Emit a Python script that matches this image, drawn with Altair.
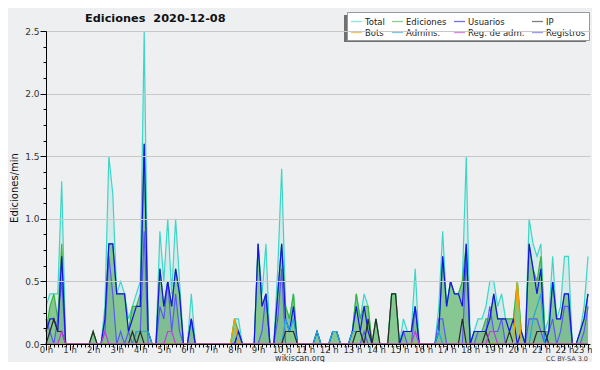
import altair as alt
import pandas as pd

# ---- data: edits per minute, one value per 10 minutes (0:00 .. 23:00) ----
total = [
    0.3, 0.4, 0.4, 0.4, 1.3, 0,      # 0 h
    0, 0, 0, 0, 0, 0,                # 1 h
    0.1, 0, 0, 0.3, 1.5, 1.2,        # 2 h
    0.4, 0.5, 0.4, 0.2, 0.3, 0.4,    # 3 h
    0.5, 2.5, 0.1, 0, 0, 0.9,        # 4 h
    0.5, 1.0, 0.4, 1.0, 0.5, 0,      # 5 h
    0, 0.4, 0, 0, 0, 0,              # 6 h
    0, 0, 0, 0, 0, 0,                # 7 h
    0.2, 0.2, 0, 0, 0, 0,            # 8 h
    0.8, 0.4, 0.8, 0, 0, 0.6,        # 9 h
    1.4, 0.3, 0.2, 0.4, 0, 0,        # 10 h
    0, 0, 0, 0.1, 0, 0,              # 11 h
    0, 0.1, 0.1, 0, 0, 0,            # 12 h
    0.1, 0.4, 0.2, 0.4, 0.3, 0,      # 13 h
    0.2, 0, 0, 0, 0.4, 0.4,          # 14 h
    0, 0.2, 0.1, 0.1, 0.6, 0,        # 15 h
    0, 0, 0, 0, 0.3, 0.9,            # 16 h
    0.3, 0.5, 0.4, 0.4, 0.5, 1.5,    # 17 h
    0, 0.1, 0.2, 0.2, 0.3, 0.5,      # 18 h
    0.5, 0.3, 0.4, 0.2, 0.2, 0.2,    # 19 h
    0.5, 0.1, 0, 1.0, 0.8, 0.7,      # 20 h
    0.8, 0.1, 0.2, 0.7, 0.2, 0.3,    # 21 h
    0.7, 0.7, 0, 0, 0.1, 0.3,        # 22 h
    0.7,                             # 23 h
]
ediciones = [
    0.1, 0.3, 0.4, 0.2, 0.8, 0,
    0, 0, 0, 0, 0, 0,
    0.1, 0, 0, 0.2, 0.8, 0.8,
    0.4, 0.4, 0.4, 0.1, 0.3, 0.3,
    0.4, 1.6, 0.1, 0, 0, 0.6,
    0.3, 0.5, 0.3, 0.6, 0.4, 0,
    0, 0.2, 0, 0, 0, 0,
    0, 0, 0, 0, 0, 0,
    0.2, 0.1, 0, 0, 0, 0,
    0.8, 0.3, 0.4, 0, 0, 0.4,
    0.8, 0.3, 0.2, 0.4, 0, 0,
    0, 0, 0, 0.1, 0, 0,
    0, 0.1, 0.1, 0, 0, 0,
    0.1, 0.4, 0.2, 0.3, 0.3, 0,
    0.2, 0, 0, 0, 0.4, 0.4,
    0, 0.1, 0.1, 0.1, 0.3, 0,
    0, 0, 0, 0, 0.1, 0.7,
    0.3, 0.5, 0.4, 0.4, 0.5, 0.8,
    0, 0.1, 0.1, 0.1, 0.2, 0.2,
    0.4, 0.2, 0.2, 0.2, 0.2, 0.2,
    0.5, 0.1, 0, 0.8, 0.6, 0.5,
    0.7, 0.1, 0.1, 0.5, 0.2, 0.2,
    0.4, 0.4, 0, 0, 0.1, 0.2,
    0.4,
]
usuarios = [
    0.1, 0.2, 0.2, 0.1, 0.7, 0,
    0, 0, 0, 0, 0, 0,
    0, 0, 0, 0.2, 0.8, 0.8,
    0.4, 0.4, 0.4, 0.1, 0.2, 0.3,
    0.3, 1.6, 0.1, 0, 0, 0.6,
    0.3, 0.5, 0.3, 0.6, 0.4, 0,
    0, 0.2, 0, 0, 0, 0,
    0, 0, 0, 0, 0, 0,
    0, 0.1, 0, 0, 0, 0,
    0.8, 0.3, 0.4, 0, 0, 0.4,
    0.8, 0.2, 0.1, 0.3, 0, 0,
    0, 0, 0, 0.1, 0, 0,
    0, 0.1, 0.1, 0, 0, 0,
    0.1, 0.3, 0.1, 0.3, 0.1, 0,
    0, 0, 0, 0, 0, 0,
    0, 0.1, 0.1, 0.1, 0.3, 0,
    0, 0, 0, 0, 0.1, 0.7,
    0.3, 0.5, 0.4, 0.4, 0.3, 0.8,
    0, 0.1, 0.1, 0.1, 0.1, 0.2,
    0.4, 0.2, 0.2, 0.2, 0.1, 0.2,
    0, 0.1, 0, 0.8, 0.6, 0.4,
    0.6, 0, 0.1, 0.5, 0.2, 0.2,
    0.4, 0.4, 0, 0, 0.1, 0.2,
    0.4,
]
ip = [
    0, 0.1, 0.2, 0.1, 0.1, 0,
    0, 0, 0, 0, 0, 0,
    0.1, 0, 0, 0, 0, 0,
    0, 0, 0, 0, 0.1, 0,
    0.1, 0, 0, 0, 0, 0,
    0, 0, 0, 0, 0, 0,
    0, 0, 0, 0, 0, 0,
    0, 0, 0, 0, 0, 0,
    0, 0, 0, 0, 0, 0,
    0, 0, 0, 0, 0, 0,
    0, 0.1, 0.1, 0.1, 0, 0,
    0, 0, 0, 0, 0, 0,
    0, 0, 0, 0, 0, 0,
    0, 0.1, 0.1, 0, 0.2, 0,
    0.2, 0, 0, 0, 0.4, 0.4,
    0, 0, 0, 0, 0, 0,
    0, 0, 0, 0, 0, 0,
    0, 0, 0, 0, 0.2, 0,
    0, 0, 0, 0, 0.1, 0,
    0, 0, 0, 0, 0.1, 0,
    0, 0, 0, 0, 0, 0.1,
    0.1, 0.1, 0, 0, 0, 0,
    0, 0, 0, 0, 0, 0,
    0,
]
registros = [
    0.2, 0.1, 0, 0.2, 0.5, 0,
    0, 0, 0, 0, 0, 0,
    0, 0, 0, 0.1, 0.7, 0.4,
    0, 0.1, 0, 0.1, 0, 0.1,
    0.1, 0.9, 0, 0, 0, 0.3,
    0.2, 0.5, 0.1, 0.4, 0.1, 0,
    0, 0.2, 0, 0, 0, 0,
    0, 0, 0, 0, 0, 0,
    0, 0.1, 0, 0, 0, 0,
    0, 0.1, 0.4, 0, 0, 0.2,
    0.6, 0, 0, 0, 0, 0,
    0, 0, 0, 0, 0, 0,
    0, 0, 0, 0, 0, 0,
    0, 0, 0, 0.1, 0, 0,
    0, 0, 0, 0, 0, 0,
    0, 0.1, 0, 0, 0.3, 0,
    0, 0, 0, 0, 0.2, 0.2,
    0, 0, 0, 0, 0, 0.7,
    0, 0, 0.1, 0.1, 0.1, 0.3,
    0.1, 0.1, 0.2, 0, 0, 0,
    0, 0, 0, 0.2, 0.2, 0.2,
    0.1, 0, 0.1, 0.2, 0, 0.1,
    0.3, 0.3, 0, 0, 0, 0.1,
    0.3,
]
admins = [
    0, 0, 0, 0, 0, 0,
    0, 0, 0, 0, 0, 0,
    0, 0, 0, 0, 0, 0,
    0, 0, 0, 0, 0, 0.1,
    0.1, 0.1, 0.1, 0, 0, 0,
    0, 0, 0, 0, 0, 0,
    0, 0, 0, 0, 0, 0,
    0, 0, 0, 0, 0, 0,
    0, 0, 0, 0, 0, 0,
    0, 0, 0, 0, 0, 0,
    0, 0.2, 0.1, 0.2, 0, 0,
    0, 0, 0, 0.1, 0, 0,
    0, 0.1, 0.1, 0, 0, 0,
    0.1, 0.1, 0.1, 0, 0, 0,
    0, 0, 0, 0, 0, 0,
    0, 0, 0, 0, 0, 0,
    0, 0, 0, 0, 0.1, 0,
    0, 0, 0, 0, 0, 0,
    0, 0, 0, 0, 0, 0,
    0, 0, 0, 0, 0, 0,
    0, 0, 0, 0, 0.2, 0.3,
    0.4, 0, 0, 0, 0, 0,
    0, 0, 0, 0, 0, 0,
    0,
]
bots = [
    0, 0, 0, 0, 0, 0,
    0, 0, 0, 0, 0, 0,
    0, 0, 0, 0, 0, 0,
    0, 0, 0, 0, 0, 0,
    0, 0, 0, 0, 0, 0,
    0, 0, 0, 0, 0, 0,
    0, 0, 0, 0, 0, 0,
    0, 0, 0, 0, 0, 0,
    0.2, 0, 0, 0, 0, 0,
    0, 0, 0, 0, 0, 0,
    0, 0, 0, 0, 0, 0,
    0, 0, 0, 0, 0, 0,
    0, 0, 0, 0, 0, 0,
    0, 0, 0, 0, 0, 0,
    0, 0, 0, 0, 0, 0,
    0, 0, 0, 0, 0, 0,
    0, 0, 0, 0, 0, 0,
    0, 0, 0, 0, 0, 0,
    0, 0, 0, 0, 0, 0,
    0, 0, 0, 0, 0, 0,
    0.5, 0, 0, 0, 0, 0,
    0, 0, 0, 0, 0, 0,
    0, 0, 0, 0, 0, 0,
    0,
]
reg_adm = [
    0, 0, 0, 0, 0.1, 0,
    0, 0, 0, 0, 0, 0,
    0, 0, 0, 0.1, 0, 0,
    0, 0, 0, 0, 0, 0,
    0, 0, 0, 0, 0, 0,
    0, 0.1, 0.1, 0, 0, 0,
    0, 0, 0, 0, 0, 0,
    0, 0, 0, 0, 0, 0,
    0, 0, 0, 0, 0, 0,
    0, 0, 0, 0, 0, 0,
    0, 0, 0, 0, 0, 0,
    0, 0, 0, 0, 0, 0,
    0, 0, 0, 0, 0, 0,
    0, 0, 0, 0, 0, 0,
    0, 0, 0, 0, 0, 0,
    0, 0, 0, 0, 0.1, 0,
    0, 0, 0, 0, 0, 0,
    0, 0, 0, 0, 0, 0,
    0, 0, 0, 0, 0, 0.1,
    0.1, 0, 0, 0, 0, 0,
    0, 0, 0, 0, 0, 0,
    0, 0, 0, 0, 0, 0,
    0, 0, 0, 0, 0, 0,
    0,
]

legend_order = ["Total", "Ediciones", "Usuarios", "IP",
                "Bots", "Admins.", "Reg. de adm.", "Registros"]
legend_colors = ["#3dd6c6", "#3cb43c", "#1414e6", "#2a2a2a",
                 "#f5a000", "#22a8dc", "#c23cdc", "#5a5af0"]
x_tick_values = list(range(139))
y_tick_values = [0, 0.125, 0.25, 0.375, 0.5, 0.625, 0.75, 0.875, 1.0,
                 1.125, 1.25, 1.375, 1.5, 1.625, 1.75, 1.875, 2.0,
                 2.125, 2.25, 2.375, 2.5]

series_data = {
    "Total": total, "Ediciones": ediciones, "Usuarios": usuarios, "IP": ip,
    "Bots": bots, "Admins.": admins, "Reg. de adm.": reg_adm,
    "Registros": registros,
}


def frame(name):
    vals = series_data[name]
    return pd.DataFrame({"t": list(range(len(vals))), "v": vals, "series": name})


FONT = "DejaVu Sans"

X = alt.X(
    "t:Q",
    scale=alt.Scale(domain=[0, 138.5], nice=False, zero=False),
    axis=alt.Axis(
        values=x_tick_values,
        labelExpr="datum.value % 6 === 0 ? (datum.value / 6) + ' h' : ''",
        tickSize={"condition": {"test": "datum.value % 6 === 0", "value": 6}, "value": 3},
        labelAlign={"condition": {"test": "datum.value === 138", "value": "right"}, "value": "center"},
        labelOffset={"condition": {"test": "datum.value === 138", "value": 4}, "value": 0},
        labelPadding=-5,
        labelFontSize=8.5,
        labelFlush=False,
        labelOverlap=False,
        grid=False,
        title=None,
        zindex=1,
    ),
)
Y = alt.Y(
    "v:Q",
    scale=alt.Scale(domain=[0, 2.5], nice=False),
    axis=alt.Axis(
        values=y_tick_values,
        labelExpr="(datum.value * 2) % 1 === 0 ? format(datum.value, '.1f') : ''",
        tickSize={"condition": {"test": "(datum.value * 2) % 1 === 0", "value": 6}, "value": 3},
        gridOpacity={"condition": {"test": "(datum.value * 2) % 1 === 0 && datum.value > 0", "value": 1}, "value": 0},
        gridColor="#c8c8c8",
        labelPadding=1,
        labelFlush=False,
        labelOverlap=False,
        title="Ediciones/min",
        titlePadding=5,
        zindex=1,
    ),
)

color_scale = alt.Scale(domain=legend_order, range=legend_colors)
legend = alt.Legend(
    orient="none", legendX=301, legendY=-19, columns=4, direction="horizontal",
    title=None, fillColor="#ffffff", strokeColor="#999999", padding=3,
    symbolType="stroke", symbolSize=121, symbolStrokeWidth=1.3,
    symbolOpacity=0.6, labelFontSize=8.5, labelFont=FONT, labelColor="#222222",
    rowPadding=0, columnPadding=4, labelOffset=2,
)

one = pd.DataFrame({"k": [0]})
shadow = alt.Chart(one).mark_rect(color="#707070").encode(
    x=alt.value(298), x2=alt.value(540), y=alt.value(-16), y2=alt.value(11)
)

area_total = alt.Chart(frame("Total")).mark_area(color="#3dd6c6", opacity=0.14).encode(x=X, y=Y)
area_reg = alt.Chart(frame("Registros")).mark_area(color="#4a4af0", opacity=0.12).encode(x=X, y=Y)
area_ed = alt.Chart(frame("Ediciones")).mark_area(color="#3aa53a", opacity=0.5).encode(x=X, y=Y)

draw_order = ["Total", "Ediciones", "Registros", "Usuarios", "Admins.", "IP", "Bots", "Reg. de adm."]
lines = [
    alt.Chart(frame(name)).mark_line(strokeWidth=1.2).encode(
        x=X, y=Y, color=alt.Color("series:N", scale=color_scale, legend=legend)
    )
    for name in draw_order
]

title_df = pd.DataFrame({"txt": ["Ediciones\u00a0 2020-12-08"]})
title = alt.Chart(title_df).mark_text(
    font=FONT, fontSize=11.3, fontWeight="bold", align="left", baseline="alphabetic", color="#111111"
).encode(text="txt:N", x=alt.value(39), y=alt.value(-9))

site_df = pd.DataFrame({"txt": ["wikiscan.org"]})
site = alt.Chart(site_df).mark_text(
    font=FONT, fontSize=8, align="center", baseline="middle", color="#333333"
).encode(text="txt:N", x=alt.value(254), y=alt.value(15 + 313))

lic_df = pd.DataFrame({"txt": ["CC BY-SA 3.0"]})
lic = alt.Chart(lic_df).mark_text(
    font=FONT, fontSize=6.5, align="right", baseline="middle", color="#444444"
).encode(text="txt:N", x=alt.value(542), y=alt.value(15 + 313))

chart = alt.layer(
    shadow, area_total, area_reg, area_ed, *lines, title, site, lic
).properties(
    width=544, height=313,
    autosize=alt.AutoSizeParams(type="none"),
    padding={"left": 38, "top": 23, "right": 2, "bottom": 18},
    background="#eeeff1",
).configure_view(stroke=None).configure_axis(
    labelFont=FONT, labelFontSize=9, labelColor="#333333",
    titleFont=FONT, titleFontSize=10, titleFontWeight="normal", titleColor="#111111",
    domainColor="#000000", tickColor="#000000", domainWidth=1, tickWidth=1,
)

chart.save("out.html", embed_options={"renderer": "svg", "actions": False})
